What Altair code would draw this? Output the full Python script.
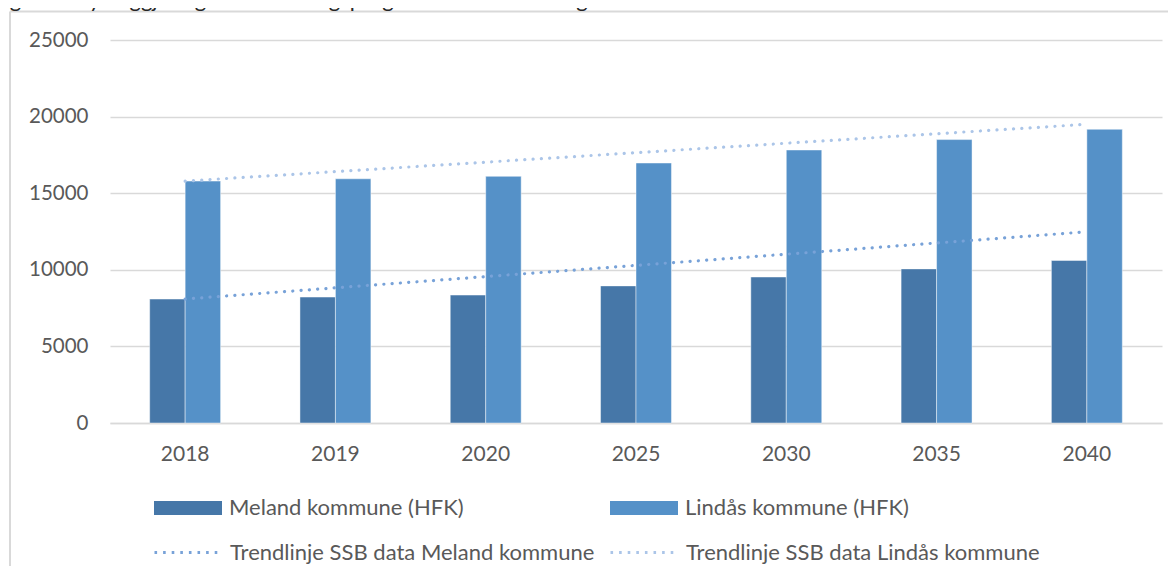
import altair as alt
import pandas as pd

TITLE = "Figur 16 Synleggjering av befolkningsprognoser for Meland og Lindås kommune."
YEARS = ["2018", "2019", "2020", "2025", "2030", "2035", "2040"]
SERIES = ["Meland kommune (HFK)", "Lindås kommune (HFK)"]
MELAND = [8090, 8220, 8350, 8950, 9530, 10060, 10610]
LINDAS = [15790, 15940, 16100, 16970, 17820, 18500, 19170]

TREND_NAMES = ["Trendlinje SSB data Meland kommune", "Trendlinje SSB data Lindås kommune"]
TREND_YEARS = ["2018", "2040"]
TREND_MELAND = [8090, 12480]
TREND_LINDAS = [15790, 19500]

C_MEL = "#4677a8"
C_LIN = "#5591c8"
C_TMEL = "#78a2d8"
C_TLIN = "#abc5e8"
FONT = "Lato"
TXT = "#595959"

bars = pd.DataFrame(
    [{"year": y, "series": SERIES[0], "value": v} for y, v in zip(YEARS, MELAND)]
    + [{"year": y, "series": SERIES[1], "value": v} for y, v in zip(YEARS, LINDAS)]
)
trend = pd.DataFrame(
    [{"year": y, "series": TREND_NAMES[0], "value": v} for y, v in zip(TREND_YEARS, TREND_MELAND)]
    + [{"year": y, "series": TREND_NAMES[1], "value": v} for y, v in zip(TREND_YEARS, TREND_LINDAS)]
)

W, H = 1052, 383

xscale = alt.Scale(domain=YEARS, paddingInner=0.528, paddingOuter=0.264)
xaxis = alt.Axis(title=None, labelAngle=0, ticks=False, domainColor="#d9d9d9", domainWidth=1.5,
                 labelPadding=20, labelFontSize=21, labelColor=TXT, labelFont=FONT)
yscale = alt.Scale(domain=[0, 25000], nice=False, zero=True)
yaxis = alt.Axis(title=None, values=[0, 5000, 10000, 15000, 20000, 25000], format="d",
                 domain=False, ticks=False,
                 labelPadding=22, gridColor="#d9d9d9", gridWidth=1.5, labelFontSize=20.5,
                 labelColor=TXT, labelFont=FONT)

xenc = alt.X("year:N", sort=YEARS, scale=xscale, axis=xaxis)
yenc = alt.Y("value:Q", scale=yscale, axis=yaxis)
xoff = alt.XOffset("series:N", sort=SERIES, scale=alt.Scale(domain=SERIES, paddingInner=0, paddingOuter=0))

SQ = "M-1,-0.206H1V0.206H-1Z"

def leg(x, y, dash=None, typ=SQ):
    kw = dict(title=None, orient="none", legendX=x, legendY=y, symbolType=typ, symbolSize=4624,
              labelFontSize=22, labelColor=TXT, labelFont=FONT, labelOffset=7, padding=0,
              symbolStrokeWidth=0, labelLimit=600)
    if dash is not None:
        kw.update(symbolDash=dash, symbolStrokeWidth=3, labelOffset=6)
    return alt.Legend(**kw)

def bar_layer(name, col, lx, ly):
    return alt.Chart(bars).transform_filter(alt.datum.series == name).mark_bar(
        stroke="#ffffff", strokeOpacity=0.45, strokeWidth=1
    ).encode(
        x=xenc, xOffset=xoff, y=yenc,
        color=alt.Color("series:N", scale=alt.Scale(domain=[name], range=[col]), legend=leg(lx, ly)),
    )

def trend_layer(name, col, lx, ly):
    return alt.Chart(trend).transform_filter(alt.datum.series == name).mark_line(
        strokeWidth=3.2, strokeDash=[0.1, 8.2], strokeCap="round"
    ).encode(
        x=alt.X("year:N", sort=YEARS, scale=xscale, axis=xaxis, bandPosition=0.5),
        y=alt.Y("value:Q", scale=yscale, axis=yaxis),
        color=alt.Color("series:N", scale=alt.Scale(domain=[name], range=[col]),
                        legend=leg(lx, ly, dash=[2.6, 6], typ="stroke")),
    )

one = alt.Data(values=[{}])
frame_top = alt.Chart(one).mark_rule(stroke="#d9d9d9", strokeWidth=2).encode(
    x=alt.value(-100), x2=alt.value(1070), y=alt.value(-28.5))
frame_left = alt.Chart(one).mark_rule(stroke="#d9d9d9", strokeWidth=2).encode(
    x=alt.value(-100), y=alt.value(-28.5), y2=alt.value(560))

title = alt.Chart(one).mark_text(
    align="left", baseline="alphabetic", fontSize=22, font=FONT, color="#262626"
).encode(x=alt.value(-118), y=alt.value(-33), text=alt.value(TITLE))

chart = alt.layer(
    frame_top,
    frame_left,
    bar_layer(SERIES[0], C_MEL, 44, 434),
    bar_layer(SERIES[1], C_LIN, 500, 434),
    trend_layer(TREND_NAMES[0], C_TMEL, 43, 477),
    trend_layer(TREND_NAMES[1], C_TLIN, 499, 477),
    title,
).resolve_scale(color="independent").properties(
    width=W, height=H,
    padding={"left": 102, "top": 32, "right": 6, "bottom": 143},
    autosize=alt.AutoSizeParams(type="none"),
).configure_view(stroke=None)

chart.save("out.html", embed_options={"renderer": "svg", "actions": False})
